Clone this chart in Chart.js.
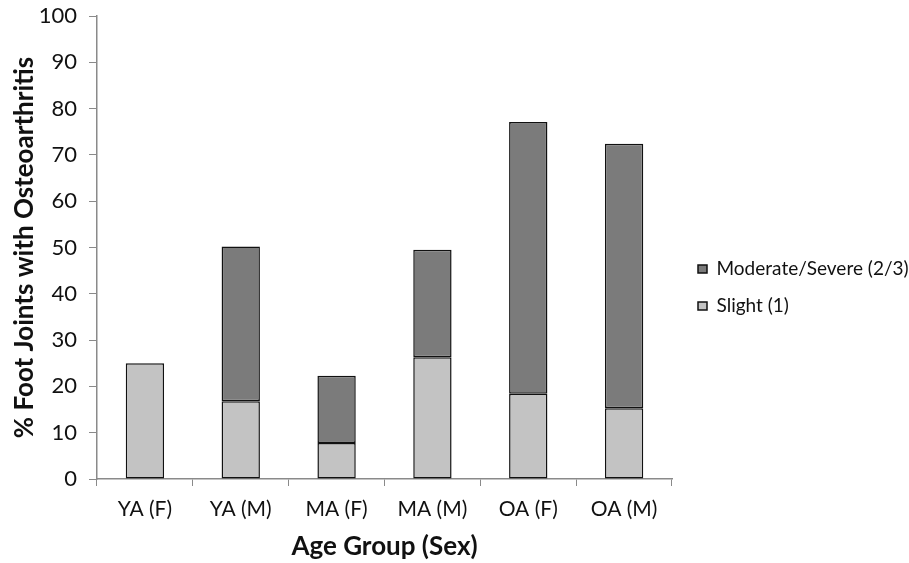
<!DOCTYPE html>
<html>
<head>
<meta charset="utf-8">
<script src="https://cdn.jsdelivr.net/npm/chart.js@4.4.1/dist/chart.umd.min.js"></script>
<style>
  body { margin: 0; background: #fff; }
  #wrap { width: 909px; height: 563px; }
</style>
</head>
<body>
<div id="wrap"><canvas id="chart" width="909" height="563"></canvas></div>
<script>
// Categories and stacked series
const groups = ["YA (F)", "YA (M)", "MA (F)", "MA (M)", "OA (F)", "OA (M)"];
const slight = [25, 16.8, 7.8, 26.3, 18.4, 15.3];
const moderate = [0, 33.4, 14.5, 23.2, 58.7, 57.1];
const yTicks = [0, 10, 20, 30, 40, 50, 60, 70, 80, 90, 100];

const font = "Lato, 'Open Sans', sans-serif";
const axisGray = "#8a8a8a";

// nudge the legend to where it sits in the original
const legendShift = {
    id: "legendShift",
    afterLayout(chart) {
        const lg = chart.legend;
        lg.left += 8;
        lg.right += 8;
        lg.top += 6;
        lg.bottom += 6;
    }
};

const ctx = document.getElementById("chart").getContext("2d");

new Chart(ctx, {
    type: "bar",
    data: {
        labels: groups,
        datasets: [
            {
                label: "Slight (1)",
                data: slight,
                backgroundColor: "#c3c3c3",
                borderColor: "#111",
                borderWidth: 1.5,
                borderSkipped: false
            },
            {
                label: "Moderate/Severe (2/3)",
                data: moderate,
                backgroundColor: "#7b7b7b",
                borderColor: "#111",
                borderWidth: 1.5,
                borderSkipped: false
            }
        ]
    },
    plugins: [legendShift],
    options: {
        responsive: false,
        animation: false,
        layout: { padding: 0 },
        datasets: {
            bar: { barPercentage: 0.4, categoryPercentage: 1.0 }
        },
        plugins: {
            tooltip: { enabled: false },
            legend: {
                position: "right",
                reverse: true,
                maxWidth: 237,
                labels: {
                    boxWidth: 9,
                    boxHeight: 8,
                    padding: 18,
                    color: "#111",
                    font: { family: font, size: 19 }
                }
            }
        },
        scales: {
            x: {
                stacked: true,
                afterFit: axis => { axis.height = 84; },
                grid: {
                    offset: true,
                    drawOnChartArea: false,
                    tickLength: 7,
                    color: axisGray
                },
                border: { display: true, color: axisGray, width: 1.5 },
                ticks: {
                    color: "#111",
                    padding: 11,
                    font: { family: font, size: 21 }
                },
                title: {
                    display: true,
                    text: "Age Group (Sex)",
                    color: "#111",
                    padding: { top: 0, bottom: 1 },
                    font: { family: font, size: 26, weight: "bold" }
                }
            },
            y: {
                stacked: true,
                min: 0,
                max: 100,
                afterFit: axis => {
                    axis.width = 97;
                    axis.paddingTop = 16;
                },
                afterBuildTicks: axis => {
                    axis.ticks = yTicks.map(v => ({ value: v }));
                },
                grid: {
                    drawOnChartArea: false,
                    tickLength: 8,
                    color: axisGray
                },
                border: { display: true, color: axisGray, width: 1.5 },
                ticks: {
                    color: "#111",
                    padding: 12,
                    font: { family: font, size: 22 }
                },
                title: {
                    display: true,
                    text: "% Foot Joints with Osteoarthritis",
                    color: "#111",
                    padding: { top: 9, bottom: 0 },
                    font: { family: font, size: 26, weight: "bold" }
                }
            }
        }
    }
});
</script>
</body>
</html>
